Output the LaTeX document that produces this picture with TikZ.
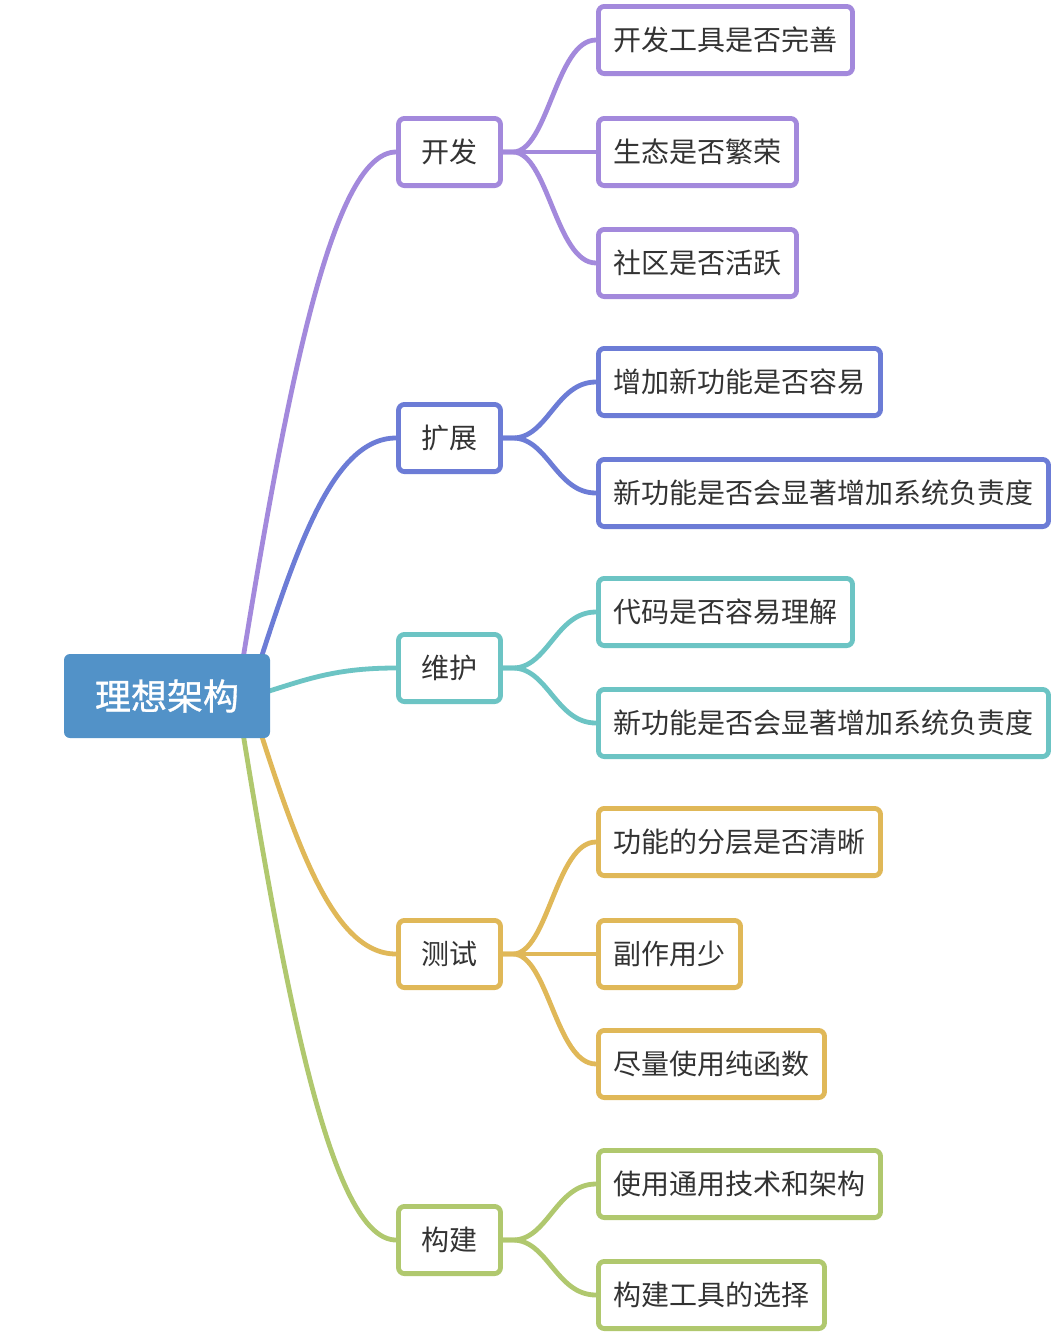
\documentclass[tikz,border=0pt]{standalone}
\usepackage{fontspec}
\newfontfamily\cjk{Noto Sans CJK SC}
\newfontfamily\cjkroot[FakeBold=0.9]{Noto Sans CJK SC}
\usetikzlibrary{positioning,calc,backgrounds}

\definecolor{rootblue}{HTML}{5292C8}
\definecolor{kfcol}{HTML}{A389DC}
\definecolor{kzcol}{HTML}{6C7CD6}
\definecolor{whcol}{HTML}{6CC4C4}
\definecolor{cscol}{HTML}{E0B858}
\definecolor{gjcol}{HTML}{B0C86E}
\definecolor{txtgray}{HTML}{333333}

\begin{document}
\begin{tikzpicture}[x=0.75pt, y=-0.75pt,
    every node/.style={font=\cjk\fontsize{21}{25}\selectfont, text=txtgray},
    root/.style={fill=rootblue, rounded corners=4.5pt, minimum width=154.5pt,
      minimum height=63pt, text=white, font=\cjkroot\fontsize{27}{32}\selectfont},
    topic/.style={draw=#1, line width=3.6pt, fill=white, rounded corners=4.5pt,
      minimum width=76.5pt, minimum height=50.4pt},
    sub/.style={draw=#1, line width=3.6pt, fill=white, rounded corners=4.5pt,
      minimum height=50.4pt, inner xsep=11.3pt, anchor=west},
    link/.style={draw=#1, line width=3.6pt}]
    \path[use as bounding box] (0,0) rectangle (1054,1336);

    % main topic
    \node [root] (root) at (167,696) {理想架构};

    % first level
    \node [topic=kfcol] (kf) at (449.5,152)  {开发};
    \node [topic=kzcol] (kz) at (449.5,438)  {扩展};
    \node [topic=whcol] (wh) at (449.5,668)  {维护};
    \node [topic=cscol] (cs) at (449.5,954)  {测试};
    \node [topic=gjcol] (gj) at (449.5,1240) {构建};

    % second level
    \node [sub=kfcol] (kf1) at (596,40)   {开发工具是否完善};
    \node [sub=kfcol] (kf2) at (596,152)  {生态是否繁荣};
    \node [sub=kfcol] (kf3) at (596,263)  {社区是否活跃};
    \node [sub=kzcol] (kz1) at (596,382)  {增加新功能是否容易};
    \node [sub=kzcol] (kz2) at (596,493)  {新功能是否会显著增加系统负责度};
    \node [sub=whcol] (wh1) at (596,612)  {代码是否容易理解};
    \node [sub=whcol] (wh2) at (596,723)  {新功能是否会显著增加系统负责度};
    \node [sub=cscol] (cs1) at (596,842)  {功能的分层是否清晰};
    \node [sub=cscol] (cs2) at (596,954)  {副作用少};
    \node [sub=cscol] (cs3) at (596,1064) {尽量使用纯函数};
    \node [sub=gjcol] (gj1) at (596,1184) {使用通用技术和架构};
    \node [sub=gjcol] (gj2) at (596,1295) {构建工具的选择};

    \begin{scope}[on background layer]
      \fill [white] (0,0) rectangle (1054,1336);
      % root to first level
      \draw [link=kfcol] ($(root.center)+(70,0)$) .. controls +(48,-299) and +(-65,0) .. (kf.west);
      \draw [link=kzcol] ($(root.center)+(82,0)$) .. controls +(45,-142) and +(-65,0) .. (kz.west);
      \draw [link=whcol] ($(root.center)+(86,0)$) .. controls +(50,-15) and +(-65,0) .. (wh.west);
      \draw [link=cscol] ($(root.center)+(82,0)$) .. controls +(45,142) and +(-65,0) .. (cs.west);
      \draw [link=gjcol] ($(root.center)+(70,0)$) .. controls +(48,299) and +(-65,0) .. (gj.west);
      % first to second level
      \foreach \from/\to/\col in {kf/kf1/kfcol, kf/kf2/kfcol, kf/kf3/kfcol,
          kz/kz1/kzcol, kz/kz2/kzcol, wh/wh1/whcol, wh/wh2/whcol,
          cs/cs1/cscol, cs/cs2/cscol, cs/cs3/cscol, gj/gj1/gjcol, gj/gj2/gjcol}
        \draw [link=\col] (\from.east) -- ++(10,0)
          .. controls +(35,0) and +(-40,0) .. (\to.west);
    \end{scope}
\end{tikzpicture}
\end{document}
